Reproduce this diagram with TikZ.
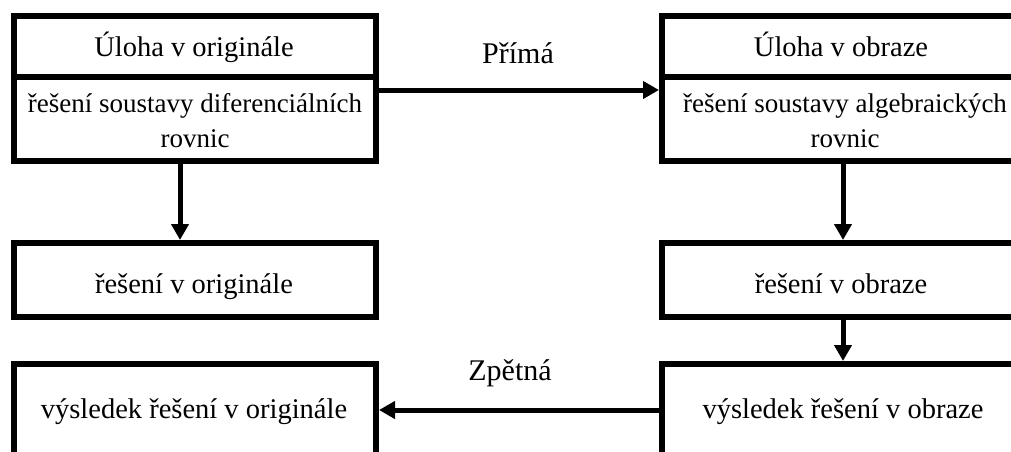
\documentclass[tikz,border=0pt]{standalone}
\usepackage{fontspec}
\setmainfont{Liberation Serif}
\usetikzlibrary{arrows.meta}
\begin{document}
\begin{tikzpicture}[x=1pt,y=-1pt,
  box/.style={draw=black, line width=6pt, fill=white, inner sep=0pt, minimum width=362pt},
  txt/.style={anchor=base, inner sep=0pt, align=center, font=\fontsize{28.5}{35}\selectfont},
  smalltxt/.style={txt, font=\fontsize{27}{35}\selectfont},
  arr/.style={line width=5pt, -{Triangle[length=16pt,width=17pt]}},
  lbl/.style={anchor=base, inner sep=0pt, font=\fontsize{30}{35}\selectfont}
]
\clip (0,0) rectangle (1011,451);
\fill[white] (0,0) rectangle (1011,451);
% left column boxes
\node[box, minimum height=61pt] (t1) at (195,46.5) {};
\node[box, minimum height=84pt] (b1) at (195,119) {};
\node[box, minimum height=74pt] (l2) at (195,280) {};
\node[box, minimum height=96pt] (l3) at (195,412) {};
% right column boxes
\node[box, minimum height=61pt] (rt1) at (843,46.5) {};
\node[box, minimum height=84pt] (rb1) at (843,119) {};
\node[box, minimum height=74pt] (r2) at (843,280) {};
\node[box, minimum height=96pt] (r3) at (843,412) {};
% texts
\node[txt] (t1txt) at (194,56) {Úloha v originále};
\node[smalltxt] (b1txt) at (195,147) {řešení soustavy diferenciálních\\rovnic};
\node[txt] (l2txt) at (194,293) {řešení v originále};
\node[txt] (l3txt) at (194,418) {výsledek řešení v originále};
\node[txt] (rt1txt) at (841,56) {Úloha v obraze};
\node[smalltxt] (rb1txt) at (845,147) {řešení soustavy algebraických\\rovnic};
\node[txt] (r2txt) at (841,293) {řešení v obraze};
\node[txt] (r3txt) at (843,418) {výsledek řešení v obraze};
% helper coordinates
\coordinate (c1) at (0,90);
\coordinate (c2) at (0,410);
\coordinate (v1) at (180,0);
% connectors
\draw[arr] (b1.east |- c1) -- (rb1.west |- c1);
\draw[arr] (r3.west |- c2) -- (l3.east |- c2);
\draw[arr] (b1.south -| v1) -- (l2.north -| v1);
\draw[arr] (rb1.south) -- (r2.north);
\draw[arr] (r2.south) -- (r3.north);
% labels
\node[lbl] (p) at (518,63) {Přímá};
\node[lbl] (z) at (510,380) {Zpětná};
\end{tikzpicture}
\end{document}
